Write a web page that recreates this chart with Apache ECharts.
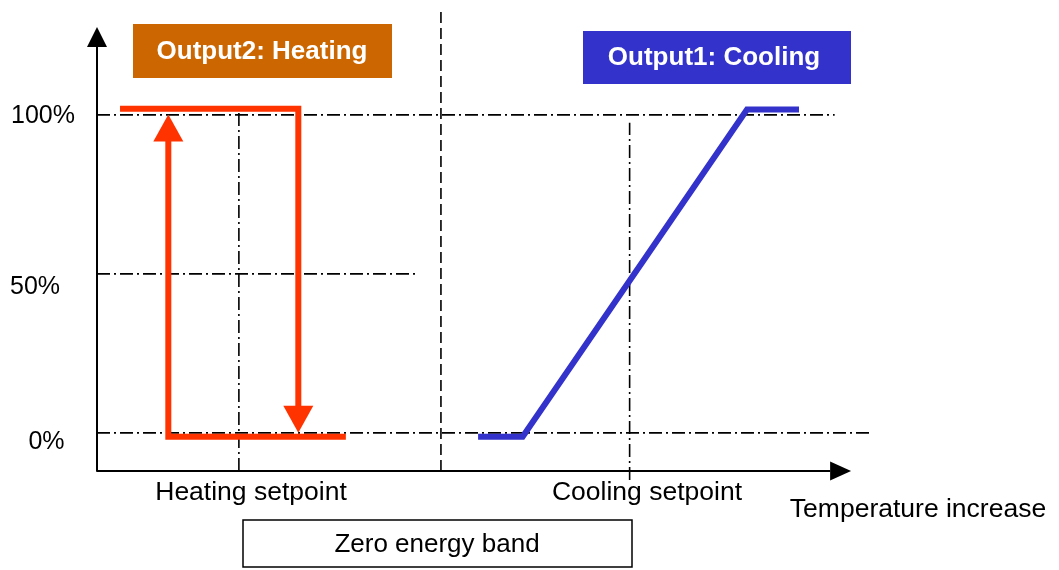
<!DOCTYPE html>
<html>
<head>
<meta charset="utf-8">
<script src="https://cdn.jsdelivr.net/npm/echarts@6.0.0/dist/echarts.min.js"></script>
<style>
  html, body { margin: 0; padding: 0; background: #fff; }
  #chart { width: 1059px; height: 570px; }
</style>
</head>
<body>
<div id="chart"></div>
<script>
// axis ranges (temperature in arbitrary units, output in %)
const xMin = 0
const xMax = 105
const yMin = -12
const yMax = 124.5

// temperature axis: line end and arrow head position
const tempAxisEnd = 98.7
const tempArrowX = 100.1

// horizontal reference levels
const levelValues = [0, 50, 100]
const levelLabels = ['0%', '50%', '100%']
const levelEnds = [104.4, 43.2, 99.3]

// setpoints (vertical dash-dot lines)
const setpointNames = ['Heating setpoint', 'Cooling setpoint']
const setpointX = [19.1, 71.7]
const setpointTop = [100.6, 97.5]
const setpointBottom = [-12, -14.8]

// zero energy band border (dashed)
const bandX = 46.3
const bandTop = 133.6

// Output2: heating hysteresis
const heatingOff = [[3.1, 101.9], [27.1, 101.9], [27.1, 5]]
const heatingOn = [[33.5, -1.2], [9.6, -1.2], [9.6, 93]]
const heatingArrows = [[9.6, 95.9], [27.1, 4.3]]
const heatingArrowRotate = [0, 180]

// Output1: cooling ramp
const coolingRamp = [[51.3, -1.2], [57.3, -1.2], [87.5, 101.7], [94.5, 101.7]]

const dashDot = [13, 4, 2, 4]
const font = 'Liberation Sans, Arial, sans-serif'

var myChart = echarts.init(document.getElementById('chart'), null, { renderer: 'canvas' })

var series = []

// temperature axis drawn as a series so the grid can be wider than the arrow
series.push({
  type: 'line',
  data: [[xMin, yMin], [tempAxisEnd, yMin]],
  symbol: 'none',
  clip: false,
  silent: true,
  z: 4,
  lineStyle: { color: '#000', width: 2 }
})
series.push({
  type: 'scatter',
  data: [[tempArrowX, yMin]],
  symbol: 'triangle',
  symbolSize: [19, 21],
  symbolRotate: -90,
  clip: false,
  silent: true,
  z: 4,
  itemStyle: { color: '#000', opacity: 1 }
})

levelValues.forEach(function(v, i) {
  series.push({
    type: 'line',
    data: [[xMin, v], [levelEnds[i], v]],
    symbol: 'none',
    clip: false,
    silent: true,
    lineStyle: { color: '#000', width: 1.6, type: dashDot }
  })
})

setpointX.forEach(function(x, i) {
  series.push({
    type: 'line',
    data: [[x, setpointBottom[i]], [x, setpointTop[i]]],
    symbol: 'none',
    clip: false,
    silent: true,
    lineStyle: { color: '#000', width: 1.6, type: dashDot }
  })
})

series.push({
  type: 'line',
  data: [[bandX, yMin], [bandX, bandTop]],
  symbol: 'none',
  clip: false,
  silent: true,
  lineStyle: { color: '#000', width: 1.6, type: [11, 5] }
})

series.push({
  name: 'Heating off',
  type: 'line',
  data: heatingOff,
  symbol: 'none',
  clip: false,
  z: 5,
  lineStyle: { color: '#ff3300', width: 6, cap: 'butt', join: 'miter' }
})
series.push({
  name: 'Heating on',
  type: 'line',
  data: heatingOn,
  symbol: 'none',
  clip: false,
  z: 5,
  lineStyle: { color: '#ff3300', width: 6, cap: 'butt', join: 'miter' }
})
series.push({
  type: 'scatter',
  data: heatingArrows.map(function(p, i) {
    return { value: p, symbolRotate: heatingArrowRotate[i] }
  }),
  symbol: 'triangle',
  symbolSize: [30, 27],
  z: 6,
  itemStyle: { color: '#ff3300', opacity: 1 }
})

series.push({
  name: 'Cooling',
  type: 'line',
  data: coolingRamp,
  symbol: 'none',
  clip: false,
  z: 5,
  lineStyle: { color: '#3333cc', width: 6, cap: 'butt', join: 'miter' }
})

// small per-label nudges, the labels in the original sit a bit below their lines
var labelRich = {
  l0: { fontSize: 25, fontFamily: font, color: '#000', padding: [18, 0, 0, 7] },
  l1: { fontSize: 25, fontFamily: font, color: '#000', padding: [26, 16, 0, 0] },
  l2: { fontSize: 25, fontFamily: font, color: '#000', padding: [2, 0, 0, 0] }
}

var option = {
  animation: false,
  backgroundColor: '#fff',
  grid: { left: 97, right: 182, top: 37, bottom: 99 },
  xAxis: {
    type: 'value',
    min: xMin,
    max: xMax,
    axisLine: { show: false },
    axisTick: { show: false },
    axisLabel: { show: false },
    splitLine: { show: false }
  },
  yAxis: {
    type: 'value',
    min: yMin,
    max: yMax,
    axisLine: {
      show: true,
      onZero: false,
      symbol: ['none', 'triangle'],
      symbolSize: [20, 20],
      lineStyle: { color: '#000', width: 2 }
    },
    axisTick: { show: false },
    axisLabel: {
      customValues: levelValues,
      formatter: function(v) {
        var i = levelValues.indexOf(v)
        return '{l' + i + '|' + levelLabels[i] + '}'
      },
      rich: labelRich,
      align: 'center',
      margin: 54,
      color: '#000',
      fontSize: 25,
      fontFamily: font
    },
    splitLine: { show: false }
  },
  graphic: [
    {
      type: 'rect',
      shape: { x: 133, y: 24, width: 259, height: 54 },
      style: { fill: '#cc6600' }
    },
    {
      type: 'text',
      x: 262,
      y: 52,
      style: { text: 'Output2: Heating', fill: '#fff', font: 'bold 26px ' + font, align: 'center', verticalAlign: 'middle' }
    },
    {
      type: 'rect',
      shape: { x: 583, y: 31, width: 268, height: 53 },
      style: { fill: '#3333cc' }
    },
    {
      type: 'text',
      x: 714,
      y: 58,
      style: { text: 'Output1: Cooling', fill: '#fff', font: 'bold 26px ' + font, align: 'center', verticalAlign: 'middle' }
    },
    {
      type: 'text',
      x: 251,
      y: 493,
      style: { text: setpointNames[0], fill: '#000', font: '26.5px ' + font, align: 'center', verticalAlign: 'middle' }
    },
    {
      type: 'text',
      x: 647,
      y: 493,
      style: { text: setpointNames[1], fill: '#000', font: '26.5px ' + font, align: 'center', verticalAlign: 'middle' }
    },
    {
      type: 'text',
      x: 918,
      y: 510,
      style: { text: 'Temperature increase', fill: '#000', font: '26.5px ' + font, align: 'center', verticalAlign: 'middle' }
    },
    {
      type: 'rect',
      shape: { x: 243, y: 520, width: 389, height: 47 },
      style: { fill: '#fff', stroke: '#000', lineWidth: 1.5 }
    },
    {
      type: 'text',
      x: 437,
      y: 545,
      style: { text: 'Zero energy band', fill: '#000', font: '26px ' + font, align: 'center', verticalAlign: 'middle' }
    }
  ],
  series: series
}

option && myChart.setOption(option)
</script>
</body>
</html>
